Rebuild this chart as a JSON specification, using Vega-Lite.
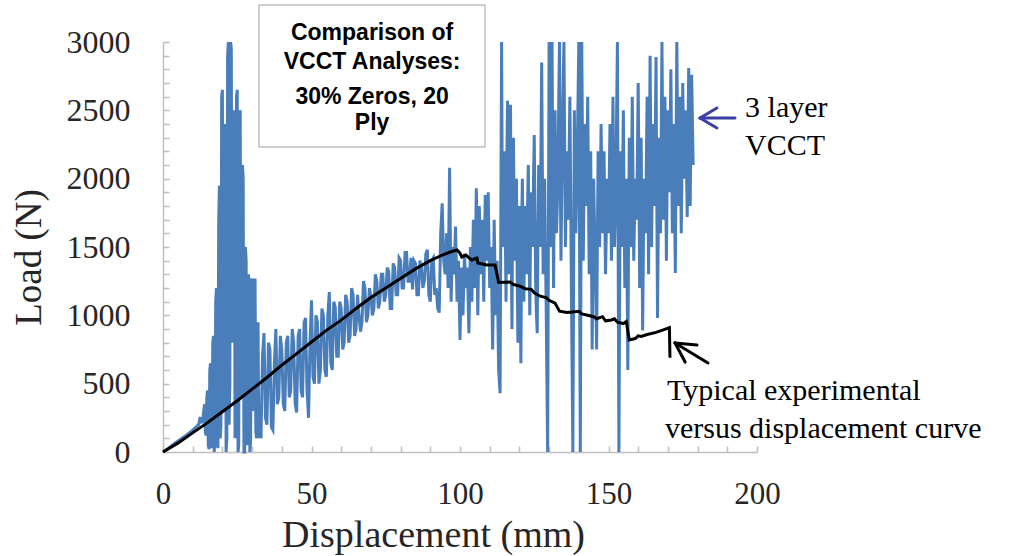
{
  "$schema": "https://vega.github.io/schema/vega-lite/v6.json",
  "width": 594,
  "height": 410,
  "autosize": {"type": "none"},
  "padding": {"left": 163, "top": 42, "right": 253, "bottom": 104},
  "background": "white",
  "config": {"view": {"stroke": null}},
  "resolve": {"axis": {"x": "independent", "y": "independent"}},
  "datasets": {
    "blue": [
      {"x":0,"y":0},{"x":2,"y":30},{"x":4,"y":65},{"x":6,"y":95},{"x":8,"y":125},{"x":10,"y":160},{"x":12,"y":200},{"x":12.5,"y":256},{"x":13,"y":210},{"x":13.5,"y":260},
      {"x":14,"y":350},{"x":14.25,"y":150},{"x":14.5,"y":120},{"x":14.75,"y":400},{"x":15,"y":450},{"x":15.25,"y":50},{"x":15.5,"y":20},{"x":15.75,"y":600},{"x":16,"y":650},{"x":16.25,"y":30},
      {"x":16.5,"y":50},{"x":16.75,"y":800},{"x":17,"y":850},{"x":17.25,"y":0},{"x":17.5,"y":100},{"x":17.75,"y":1100},{"x":18,"y":1200},{"x":18.25,"y":50},{"x":18.5,"y":30},{"x":18.75,"y":1700},
      {"x":19,"y":1950},{"x":19.25,"y":100},{"x":19.5,"y":200},{"x":19.75,"y":2600},{"x":20,"y":2650},{"x":20.25,"y":300},{"x":20.5,"y":600},{"x":20.75,"y":2400},{"x":21,"y":2300},{"x":21.25,"y":0},
      {"x":21.5,"y":100},{"x":21.75,"y":2900},{"x":22,"y":3000},{"x":22.25,"y":200},{"x":22.5,"y":500},{"x":22.75,"y":3000},{"x":23,"y":2950},{"x":23.25,"y":800},{"x":23.5,"y":1200},{"x":23.75,"y":2500},
      {"x":24,"y":2400},{"x":24.25,"y":100},{"x":24.5,"y":300},{"x":24.75,"y":2600},{"x":25,"y":2650},{"x":25.25,"y":0},{"x":25.5,"y":50},{"x":25.75,"y":2400},{"x":26,"y":2500},{"x":26.25,"y":400},
      {"x":26.5,"y":700},{"x":26.75,"y":2100},{"x":27,"y":2000},{"x":27.25,"y":0},{"x":27.5,"y":0},{"x":27.75,"y":1500},{"x":28,"y":1400},{"x":28.25,"y":50},{"x":28.5,"y":200},{"x":28.75,"y":1300},
      {"x":29,"y":1250},{"x":29.25,"y":0},{"x":29.5,"y":80},{"x":29.75,"y":1200},{"x":30,"y":1270},{"x":30.25,"y":300},{"x":30.5,"y":400},{"x":30.75,"y":1000},{"x":31,"y":1270},{"x":31.25,"y":150},
      {"x":31.5,"y":100},{"x":31.75,"y":900},{"x":32,"y":950},{"x":32.25,"y":100},
      {"x":32.5,"y":300},{"x":33,"y":100},{"x":33.5,"y":700},{"x":34,"y":870},{"x":34.5,"y":250},{"x":35,"y":200},{"x":35.5,"y":800},{"x":36,"y":750},{"x":36.5,"y":180},{"x":37,"y":160},
      {"x":37.5,"y":650},{"x":38,"y":900},{"x":38.5,"y":350},{"x":39,"y":400},{"x":39.5,"y":850},{"x":40,"y":750},{"x":40.5,"y":350},{"x":41,"y":300},{"x":41.5,"y":800},{"x":42,"y":850},
      {"x":42.5,"y":400},{"x":43,"y":450},{"x":43.5,"y":900},{"x":44,"y":800},{"x":44.5,"y":350},{"x":45,"y":290},{"x":45.5,"y":850},{"x":46,"y":900},{"x":46.5,"y":450},{"x":47,"y":400},
      {"x":47.5,"y":950},{"x":48,"y":980},{"x":48.5,"y":450},{"x":49,"y":250},{"x":49.5,"y":800},{"x":50,"y":1110},{"x":50.5,"y":550},{"x":51,"y":500},{"x":51.5,"y":1000},{"x":52,"y":950},
      {"x":52.5,"y":500},{"x":53,"y":600},{"x":53.5,"y":1050},{"x":54,"y":1000},{"x":54.5,"y":600},{"x":55,"y":550},{"x":55.5,"y":1000},{"x":56,"y":1170},{"x":56.5,"y":650},{"x":57,"y":600},
      {"x":57.5,"y":1100},{"x":58,"y":1060},{"x":58.5,"y":700},{"x":59,"y":700},{"x":59.5,"y":1100},{"x":60,"y":1050},{"x":60.5,"y":750},{"x":61,"y":800},{"x":61.5,"y":1150},{"x":62,"y":1100},
      {"x":62.5,"y":800},{"x":63,"y":850},{"x":63.5,"y":1200},{"x":64,"y":1150},{"x":64.5,"y":850},{"x":65,"y":900},{"x":65.5,"y":1150},{"x":66,"y":1000},{"x":66.5,"y":880},{"x":67,"y":950},
      {"x":67.5,"y":1250},{"x":68,"y":1200},{"x":68.5,"y":950},{"x":69,"y":1000},{"x":69.5,"y":1200},{"x":70,"y":1140},{"x":70.5,"y":1000},{"x":71,"y":1050},{"x":71.5,"y":1300},{"x":72,"y":1250},
      {"x":72.5,"y":1050},{"x":73,"y":1100},{"x":73.5,"y":1300},{"x":74,"y":1300},{"x":74.5,"y":1100},{"x":75,"y":1150},{"x":75.5,"y":1350},{"x":76,"y":1320},{"x":76.5,"y":1050},{"x":77,"y":1050},
      {"x":77.5,"y":1380},{"x":78,"y":1350},{"x":78.5,"y":1150},{"x":79,"y":1150},{"x":79.5,"y":1420},{"x":80,"y":1400},{"x":80.5,"y":1200},{"x":81,"y":1200},{"x":81.5,"y":1460},{"x":82,"y":1460},
      {"x":82.5,"y":1250},{"x":83,"y":1250},{"x":83.5,"y":1420},{"x":84,"y":1190},{"x":84.5,"y":1400},{"x":85,"y":1380},{"x":85.5,"y":1150},{"x":86,"y":1150},{"x":86.5,"y":1400},{"x":87,"y":1350},
      {"x":87.5,"y":1200},{"x":88,"y":1250},{"x":88.5,"y":1450},{"x":89,"y":1480},{"x":89.5,"y":1150},{"x":90,"y":1100},{"x":90.5,"y":1400},{"x":91,"y":1420},{"x":91.5,"y":1150},{"x":92,"y":1200},
      {"x":92.5,"y":1050},{"x":93,"y":1020},{"x":93.5,"y":1600},{"x":94,"y":1820},{"x":94.5,"y":1400},{"x":95,"y":1300},
      {"x":95.5,"y":1600},{"x":96,"y":1200},{"x":96.5,"y":2080},{"x":97,"y":1100},{"x":97.5,"y":1500},{"x":98,"y":1300},{"x":98.5,"y":1650},
      {"x":99,"y":1100},{"x":99.5,"y":1400},{"x":100,"y":820},{"x":100.5,"y":1350},{"x":101,"y":1000},{"x":101.5,"y":1450},{"x":102,"y":1200},{"x":102.5,"y":1350},{"x":103,"y":870},{"x":103.5,"y":1500},
      {"x":104,"y":1100},{"x":104.5,"y":1700},{"x":105,"y":1200},{"x":105.5,"y":1930},{"x":106,"y":1000},{"x":106.5,"y":1800},{"x":107,"y":1300},{"x":107.5,"y":1700},{"x":108,"y":1100},{"x":108.5,"y":1880},
      {"x":109,"y":1400},{"x":109.5,"y":1900},{"x":110,"y":1200},{"x":110.5,"y":1500},{"x":111,"y":750},{"x":111.5,"y":1700},{"x":112,"y":1000},{"x":112.5,"y":1400},{"x":113,"y":600},{"x":113.5,"y":430},
      {"x":114,"y":3000},{"x":114.25,"y":1800},{"x":114.5,"y":1500},{"x":114.75,"y":2000},{"x":115,"y":2200},{"x":115.25,"y":1600},{"x":115.5,"y":1100},{"x":115.75,"y":2100},{"x":116,"y":2570},{"x":116.25,"y":1900},
      {"x":116.5,"y":1300},{"x":116.75,"y":2000},{"x":117,"y":2540},{"x":117.25,"y":1500},{"x":117.5,"y":900},{"x":117.75,"y":1900},{"x":118,"y":2300},{"x":118.25,"y":1700},{"x":118.5,"y":1400},{"x":118.75,"y":1800},
      {"x":119,"y":2000},{"x":119.25,"y":1300},{"x":119.5,"y":800},{"x":119.75,"y":1500},{"x":120,"y":1800},{"x":120.25,"y":1200},{"x":120.5,"y":650},{"x":120.75,"y":1600},{"x":121,"y":2000},{"x":121.25,"y":1500},
      {"x":121.5,"y":1100},{"x":121.75,"y":1600},{"x":122,"y":1800},{"x":122.25,"y":1500},{"x":122.5,"y":1300},{"x":122.75,"y":1800},{"x":123,"y":2100},{"x":123.25,"y":1500},{"x":123.5,"y":1000},{"x":123.75,"y":1600},
      {"x":124,"y":1900},{"x":124.25,"y":1700},{"x":124.5,"y":1500},{"x":124.75,"y":2000},{"x":125,"y":2320},{"x":125.25,"y":1700},{"x":125.5,"y":1200},{"x":125.75,"y":1000},{"x":126,"y":870},{"x":126.25,"y":1600},
      {"x":126.5,"y":2100},{"x":126.75,"y":1800},{"x":127,"y":1500},{"x":127.25,"y":2200},{"x":127.5,"y":2850},{"x":127.75,"y":2000},{"x":128,"y":1300},{"x":128.25,"y":1700},{"x":128.5,"y":2000},{"x":128.75,"y":1500},
      {"x":129,"y":1100},{"x":129.5,"y":0},{"x":130,"y":3000},{"x":130.25,"y":2200},{"x":130.5,"y":1500},{"x":130.75,"y":2300},{"x":131,"y":3000},{"x":131.25,"y":2000},{"x":131.5,"y":1200},{"x":131.75,"y":1900},
      {"x":132,"y":2500},{"x":132.25,"y":2000},{"x":132.5,"y":1600},{"x":132.75,"y":1800},{"x":133,"y":2000},{"x":133.25,"y":2600},{"x":133.5,"y":3000},{"x":133.75,"y":2100},{"x":134,"y":1400},{"x":134.25,"y":1900},
      {"x":134.5,"y":2300},{"x":134.75,"y":2700},{"x":135,"y":3000},{"x":135.25,"y":2200},{"x":135.5,"y":1500},{"x":135.75,"y":1900},{"x":136,"y":2200},{"x":136.25,"y":1900},{"x":136.5,"y":1700},{"x":136.75,"y":2200},
      {"x":137,"y":2600},{"x":137.25,"y":1900},{"x":137.5,"y":1200},{"x":138,"y":0},{"x":138.5,"y":2500},{"x":138.75,"y":2000},{"x":139,"y":1600},{"x":139.25,"y":1900},{"x":139.5,"y":2200},{"x":139.75,"y":2600},
      {"x":140,"y":3000},{"x":140.5,"y":0},{"x":141,"y":3000},{"x":141.25,"y":2200},{"x":141.5,"y":1400},{"x":141.75,"y":1900},{"x":142,"y":2400},{"x":142.25,"y":2100},{"x":142.5,"y":1800},{"x":142.75,"y":2200},
      {"x":143,"y":2600},{"x":143.25,"y":1900},{"x":143.5,"y":1300},{"x":143.75,"y":1800},{"x":144,"y":2200},{"x":144.25,"y":1500},{"x":144.5,"y":750},{"x":144.75,"y":1400},{"x":145,"y":2000},{"x":145.25,"y":1700},
      {"x":145.5,"y":1400},{"x":145.75,"y":1100},{"x":146,"y":750},{"x":146.25,"y":1500},{"x":146.5,"y":2200},{"x":146.75,"y":1800},{"x":147,"y":1500},{"x":147.25,"y":1900},{"x":147.5,"y":2400},{"x":147.75,"y":2000},
      {"x":148,"y":1600},{"x":148.25,"y":1900},{"x":148.5,"y":2200},{"x":148.75,"y":1700},{"x":149,"y":1300},{"x":149.25,"y":1600},{"x":149.5,"y":2000},{"x":149.75,"y":1800},{"x":150,"y":1600},{"x":150.25,"y":2000},
      {"x":150.5,"y":2400},{"x":150.75,"y":1900},{"x":151,"y":1400},{"x":151.25,"y":2000},{"x":151.5,"y":2600},{"x":151.75,"y":2000},{"x":152,"y":1500},{"x":152.25,"y":1700},{"x":152.5,"y":2000},{"x":152.75,"y":2500},
      {"x":153,"y":3000},{"x":153.5,"y":0},{"x":154,"y":2200},{"x":154.25,"y":1800},{"x":154.5,"y":1500},{"x":154.75,"y":2000},{"x":155,"y":2500},{"x":155.25,"y":1800},{"x":155.5,"y":1200},{"x":155.75,"y":1600},
      {"x":156,"y":2000},{"x":156.25,"y":1300},{"x":156.5,"y":600},{"x":156.75,"y":1500},{"x":157,"y":2300},{"x":157.25,"y":1900},{"x":157.5,"y":1500},{"x":157.75,"y":2000},{"x":158,"y":2600},{"x":158.25,"y":2000},
      {"x":158.5,"y":1400},{"x":158.75,"y":1700},{"x":159,"y":2000},{"x":159.25,"y":1800},{"x":159.5,"y":1700},{"x":159.75,"y":2200},{"x":160,"y":2700},{"x":160.25,"y":2000},{"x":160.5,"y":1200},{"x":160.75,"y":1800},
      {"x":161,"y":2300},{"x":161.25,"y":1600},{"x":161.5,"y":890},{"x":161.75,"y":1500},{"x":162,"y":2000},{"x":162.25,"y":1800},{"x":162.5,"y":1600},{"x":162.75,"y":2100},{"x":163,"y":2600},{"x":163.25,"y":2000},
      {"x":163.5,"y":1300},{"x":163.75,"y":2100},{"x":164,"y":2900},{"x":164.25,"y":2200},{"x":164.5,"y":1500},{"x":164.75,"y":2000},{"x":165,"y":2400},{"x":165.25,"y":2100},{"x":165.5,"y":1800},{"x":165.75,"y":2300},
      {"x":166,"y":2890},{"x":166.25,"y":1900},{"x":166.5,"y":980},{"x":166.75,"y":1600},{"x":167,"y":2300},{"x":167.25,"y":1900},{"x":167.5,"y":1600},{"x":167.75,"y":2300},{"x":168,"y":3000},{"x":168.25,"y":2300},
      {"x":168.5,"y":1700},{"x":168.75,"y":2100},{"x":169,"y":2600},{"x":169.25,"y":2000},{"x":169.5,"y":1400},{"x":169.75,"y":2000},{"x":170,"y":2500},{"x":170.25,"y":2200},{"x":170.5,"y":1900},{"x":170.75,"y":2300},
      {"x":171,"y":2800},{"x":171.25,"y":2200},{"x":171.5,"y":1600},{"x":171.75,"y":2000},{"x":172,"y":2400},{"x":172.25,"y":1800},{"x":172.5,"y":1310},{"x":172.75,"y":2200},{"x":173,"y":3000},{"x":173.25,"y":2400},
      {"x":173.5,"y":1800},{"x":173.75,"y":2200},{"x":174,"y":2600},{"x":174.25,"y":2100},{"x":174.5,"y":1600},{"x":174.75,"y":2100},{"x":175,"y":2700},{"x":175.25,"y":2300},{"x":175.5,"y":2000},{"x":175.75,"y":2200},
      {"x":176,"y":2500},{"x":176.25,"y":2100},{"x":176.5,"y":1720},{"x":176.75,"y":2300},{"x":177,"y":2810},{"x":177.25,"y":2300},{"x":177.5,"y":1800},{"x":177.75,"y":2300},{"x":178,"y":2760},{"x":178.5,"y":2100}
    ],
    "black": [
      {"x":0,"y":0},{"x":5,"y":65},{"x":10,"y":140},{"x":15,"y":215},{"x":20,"y":295},{"x":25,"y":375},{"x":30,"y":460},{"x":35,"y":545},{"x":40,"y":635},{"x":45,"y":720},
      {"x":50,"y":805},{"x":55,"y":890},{"x":60,"y":965},{"x":65,"y":1050},{"x":70,"y":1130},{"x":75,"y":1200},{"x":80,"y":1270},{"x":85,"y":1340},{"x":90,"y":1400},{"x":94,"y":1440},
      {"x":97,"y":1465},{"x":99,"y":1478},{"x":100,"y":1455},{"x":100.6,"y":1427},{"x":102,"y":1441},{"x":103,"y":1420},{"x":104,"y":1405},{"x":105.7,"y":1419},{"x":106,"y":1383},{"x":109,"y":1368},
      {"x":111.8,"y":1368},{"x":113,"y":1240},{"x":116.8,"y":1244},{"x":118,"y":1225},{"x":120,"y":1215},{"x":122,"y":1195},{"x":124,"y":1190},{"x":125,"y":1165},{"x":127,"y":1140},{"x":129,"y":1130},
      {"x":130,"y":1110},{"x":132,"y":1090},{"x":133.5,"y":1030},{"x":136,"y":1020},{"x":138,"y":1025},{"x":140,"y":1030},{"x":141,"y":1010},{"x":143,"y":1000},{"x":145,"y":990},{"x":146,"y":975},
      {"x":148,"y":990},{"x":149,"y":960},{"x":151,"y":966},{"x":152,"y":975},{"x":153,"y":950},{"x":155,"y":940},{"x":156,"y":955},{"x":157,"y":820},{"x":159,"y":830},{"x":160,"y":850},
      {"x":161,"y":845},{"x":163,"y":860},{"x":166,"y":875},{"x":168,"y":890},{"x":170.5,"y":910},{"x":170.7,"y":690}
    ]
  },
  "encoding": {
    "x": {"field": "x", "type": "quantitative", "scale": {"domain": [0, 200], "nice": false, "zero": false}, "axis": null},
    "y": {"field": "y", "type": "quantitative", "scale": {"domain": [0, 3000], "nice": false}, "axis": null}
  },
  "layer": [
    {
      "data": {"name": "blue"},
      "mark": {"type": "line", "color": "#4a7ebb", "strokeWidth": 3, "interpolate": "linear"},
      "encoding": {
        "x": {
          "field": "x", "type": "quantitative",
          "scale": {"domain": [0, 200], "nice": false, "zero": false},
          "axis": {
            "orient": "bottom",
            "title": "Displacement (mm)",
            "values": [0, 50, 100, 150, 200],
            "grid": false, "ticks": false, "tickSize": 0, "domainColor": "#bfbfbf", "domainWidth": 1.5,
            "labelFont": "Liberation Serif", "labelFontSize": 31, "labelColor": "#262626", "labelPadding": 27, "labelFlush": false, "labelOverlap": false,
            "titleFont": "Liberation Serif", "titleFontSize": 38, "titleFontWeight": "normal", "titleColor": "#262626",
            "titleBaseline": "alphabetic", "titleX": 270, "titleY": 94
          }
        },
        "y": {
          "field": "y", "type": "quantitative",
          "scale": {"domain": [0, 3000], "nice": false},
          "axis": {
            "orient": "left",
            "title": "Load (N)",
            "values": [0, 500, 1000, 1500, 2000, 2500, 3000],
            "format": "d",
            "grid": false, "ticks": false, "tickSize": 0, "domainColor": "#bfbfbf", "domainWidth": 1.5,
            "labelFont": "Liberation Serif", "labelFontSize": 32, "labelColor": "#262626", "labelPadding": 33, "labelFlush": false, "labelOverlap": false,
            "titleFont": "Liberation Serif", "titleFontSize": 37, "titleFontWeight": "normal", "titleColor": "#262626",
            "titleBaseline": "alphabetic", "titleX": -123, "titleY": 215, "titleAngle": -90
          }
        }
      }
    },
    {
      "data": {"name": "black"},
      "mark": {"type": "line", "color": "#000000", "strokeWidth": 3, "interpolate": "linear"},
      "encoding": {
        "x": {
          "field": "x", "type": "quantitative",
          "scale": {"domain": [0, 200], "nice": false, "zero": false},
          "axis": {
            "orient": "bottom",
            "title": null, "labels": false, "domain": false, "grid": false,
            "values": [0,10,20,30,40,50,60,70,80,90,100,110,120,130,140,150,160,170,180,190,200],
            "ticks": true, "tickSize": 6, "tickWidth": 1.5, "tickColor": "#bfbfbf", "offset": -6
          }
        },
        "y": {
          "field": "y", "type": "quantitative",
          "scale": {"domain": [0, 3000], "nice": false},
          "axis": {
            "orient": "left",
            "title": null, "labels": false, "domain": false, "grid": false,
            "values": [0,100,200,300,400,500,600,700,800,900,1000,1100,1200,1300,1400,1500,1600,1700,1800,1900,2000,2100,2200,2300,2400,2500,2600,2700,2800,2900,3000],
            "ticks": true, "tickSize": 6, "tickWidth": 1.5, "tickColor": "#bfbfbf", "offset": -6
          }
        }
      }
    },
    {
      "data": {"values": [{"x": 32.3, "x2": 108.4, "y": 2232, "y2": 3271}]},
      "mark": {"type": "rect", "fill": "white", "stroke": "#bfbfbf", "strokeWidth": 1.5},
      "encoding": {"x2": {"field": "x2"}, "y2": {"field": "y2"}}
    },
    {
      "data": {"values": [
        {"x": 70.4, "y": 3066, "t": "Comparison of"},
        {"x": 70.4, "y": 2854, "t": "VCCT Analyses:"},
        {"x": 70.4, "y": 2598, "t": "30% Zeros, 20"},
        {"x": 70.4, "y": 2407, "t": "Ply"}
      ]},
      "mark": {"type": "text", "font": "Liberation Sans", "fontWeight": "bold", "fontSize": 23, "align": "center", "baseline": "middle", "color": "#000000"},
      "encoding": {"text": {"field": "t"}}
    },
    {
      "data": {"values": [
        {"x": 196.0, "y": 2451, "t": "3 layer"},
        {"x": 196.0, "y": 2173, "t": "VCCT"},
        {"x": 169.7, "y": 380, "t": "Typical experimental"},
        {"x": 169.0, "y": 102, "t": "versus displacement curve"}
      ]},
      "mark": {"type": "text", "font": "Liberation Serif", "fontSize": 30, "align": "left", "baseline": "alphabetic", "color": "#000000"},
      "encoding": {"text": {"field": "t"}}
    },
    {
      "data": {"values": [
        {"x": 180.8, "y": 2444, "x2": 192.6, "y2": 2444, "arrow": "VCCT"},
        {"x": 180.8, "y": 2444, "x2": 186.5, "y2": 2517, "arrow": "VCCT"},
        {"x": 180.8, "y": 2444, "x2": 186.5, "y2": 2371, "arrow": "VCCT"},
        {"x": 172.4, "y": 798, "x2": 183.5, "y2": 651, "arrow": "experimental"},
        {"x": 172.4, "y": 798, "x2": 179.8, "y2": 783, "arrow": "experimental"},
        {"x": 172.4, "y": 798, "x2": 175.8, "y2": 658, "arrow": "experimental"}
      ]},
      "mark": {"type": "rule", "strokeWidth": 3, "strokeCap": "round"},
      "encoding": {
        "x2": {"field": "x2"}, "y2": {"field": "y2"},
        "color": {"field": "arrow", "type": "nominal", "scale": {"domain": ["VCCT", "experimental"], "range": ["#3b3fa3", "#000000"]}, "legend": null}
      }
    }
  ]
}
